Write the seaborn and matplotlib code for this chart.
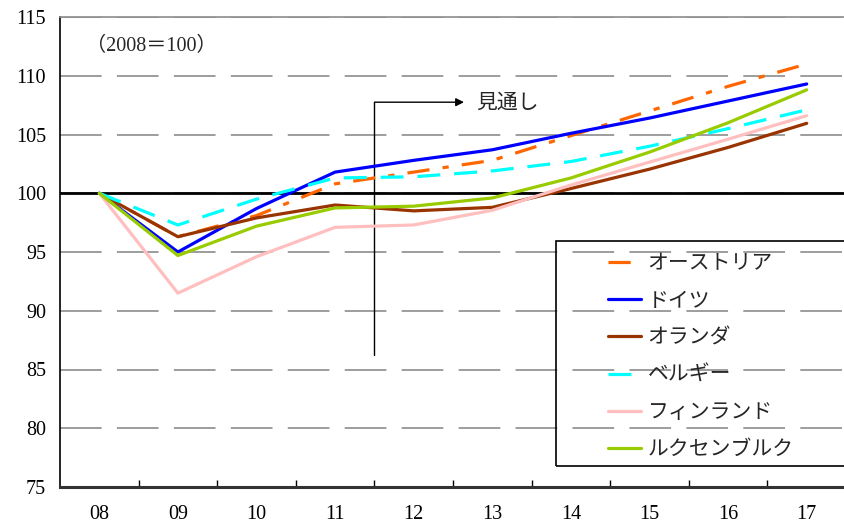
import numpy as np
import pandas as pd
import matplotlib
matplotlib.use("Agg")
import matplotlib.pyplot as plt
from matplotlib.patches import Rectangle
import seaborn as sns

# --- data (index, 2008 = 100) ---
years = ["08", "09", "10", "11", "12", "13", "14", "15", "16", "17"]
austria = [100, 96.3, 98.1, 100.8, 101.8, 102.8, 104.9, 107.0, 109.1, 111.0]
germany = [100, 95.0, 98.7, 101.8, 102.8, 103.7, 105.1, 106.4, 107.85, 109.3]
netherlands = [100, 96.3, 97.9, 99.0, 98.5, 98.8, 100.4, 102.05, 103.9, 105.95]
belgium = [100, 97.3, 99.5, 101.3, 101.4, 101.9, 102.7, 104.0, 105.5, 107.1]
finland = [100, 91.5, 94.6, 97.1, 97.3, 98.55, 100.7, 102.65, 104.6, 106.6]
luxembourg = [100, 94.7, 97.2, 98.75, 98.9, 99.6, 101.3, 103.5, 106.0, 108.8]

countries = ["オーストリア", "ドイツ", "オランダ", "ベルギー", "フィンランド", "ルクセンブルク"]
series = [austria, germany, netherlands, belgium, finland, luxembourg]
colors = ["#FF6600", "#0000FF", "#993300", "#00FFFF", "#FFBFBF", "#99CC00"]
dash_styles = [(16, 9.5, 4.5, 9.5), "", "", (16.5, 10), "", ""]

sns.set_theme(style="white")
plt.rcParams["font.family"] = ["Liberation Serif", "Noto Sans CJK JP"]
plt.rcParams["lines.scale_dashes"] = False
plt.rcParams["axes.unicode_minus"] = False

df = pd.DataFrame({
    "pos": np.tile(np.arange(len(years)), len(countries)),
    "value": np.concatenate(series),
    "country": np.repeat(countries, len(years)),
})

fig = plt.figure(figsize=(8.44, 5.24), dpi=100)
ax = fig.add_axes([60 / 844, 37 / 524, 786 / 844, 470 / 524])

sns.lineplot(
    data=df, x="pos", y="value", hue="country", style="country",
    hue_order=countries, style_order=countries,
    palette=dict(zip(countries, colors)),
    dashes=dict(zip(countries, dash_styles)),
    linewidth=2.3, legend=False, ax=ax, zorder=3,
)
data_lines = list(ax.lines)

# axes and grid
ax.set_xlim(-0.5, 9.5)
ax.set_ylim(75, 115)
ax.set_yticks(range(75, 116, 5))
ax.set_xticks(range(len(years)))
ax.set_xticklabels(years)
ax.set_xticks(np.arange(0.5, 9.5, 1), minor=True)
ax.set_xlabel("")
ax.set_ylabel("")
ax.tick_params(axis="x", which="major", length=0, pad=13, labelsize=14.5, colors="black")
ax.tick_params(axis="x", which="minor", length=5, direction="in", width=1,
               color="black", bottom=True)
ax.tick_params(axis="y", length=0, pad=10, labelsize=14.5, colors="black")
ax.yaxis.grid(True, color="#8c8c8c", linewidth=1.2, linestyle=(0, (30, 11)))
ax.xaxis.grid(False)
ax.set_axisbelow(True)

ax.spines["left"].set_color("black")
ax.spines["left"].set_linewidth(1.2)
ax.spines["bottom"].set_color("#333333")
ax.spines["bottom"].set_linewidth(2.2)
ax.spines["top"].set_color("#8c8c8c")
ax.spines["top"].set_linewidth(1.2)
ax.spines["right"].set_visible(False)

# reference line at 100
ax.axhline(100, color="black", linewidth=2, zorder=2)

# forecast marker
ax.plot([3.5, 3.5], [86.2, 107.75], color="black", linewidth=1, zorder=2)
ax.annotate("", xy=(4.64, 107.75), xytext=(3.5, 107.75),
            arrowprops=dict(arrowstyle="-|>", color="black", lw=1,
                            mutation_scale=12, shrinkA=0, shrinkB=0))
ax.text(4.80, 107.55, "見通し", fontsize=15, va="center", ha="left")
ax.text(-0.17, 112.45, "（2008＝100）", fontsize=14.5, va="center", ha="left")

# legend
ax.legend(handles=data_lines, labels=countries, loc="upper left",
          bbox_to_anchor=(608 / 844, 1 - 255 / 524), bbox_transform=fig.transFigure,
          frameon=False, fontsize=15, handlelength=1.6, handletextpad=0.3,
          labelspacing=0.84, borderpad=0, borderaxespad=0)
fig.add_artist(Rectangle((556 / 844, 1 - 466 / 524), 0.5, (466 - 241) / 524,
                         transform=fig.transFigure, fill=False,
                         edgecolor="black", linewidth=1.2, zorder=5))

fig.savefig("out.png", dpi=100)
